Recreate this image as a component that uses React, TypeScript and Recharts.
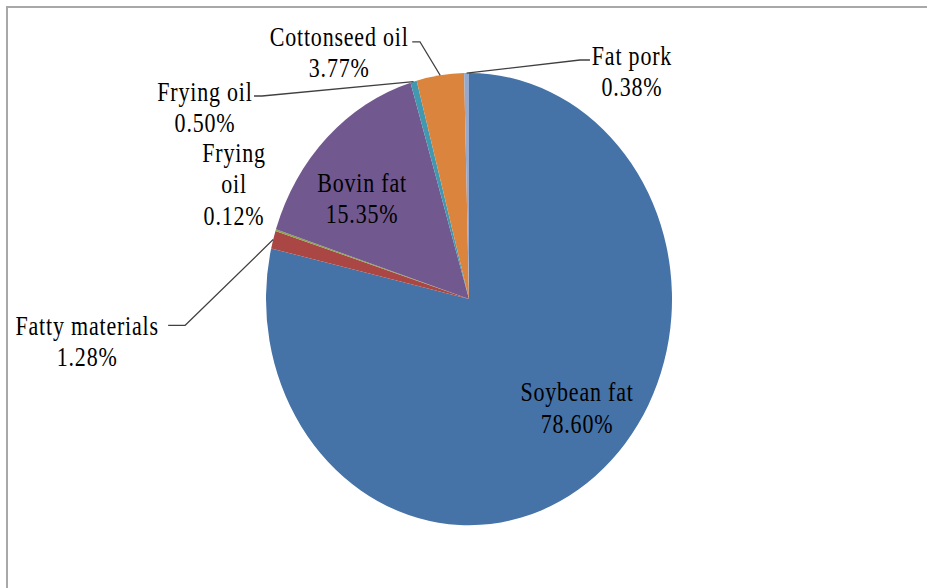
import React from 'react';
import { PieChart, Pie, Cell } from 'recharts';

const categories = ['Soybean fat', 'Fatty materials', 'Frying oil', 'Bovin fat', 'Frying oil', 'Cottonseed oil', 'Fat pork'];
const shares = [78.6, 1.28, 0.12, 15.35, 0.5, 3.77, 0.38];
const colors = ['#4572A7', '#AA4643', '#89A54E', '#71588F', '#4198AF', '#DB843D', '#93A9CF'];

// label layout: offsets (unscaled px) from the slice's outer point at its mid angle
const labelLayout: { dx: number; dy: number; wrap?: boolean; leader?: number[][] }[] = [
  { dx: -18.4, dy: -75.3 },
  { dx: -186, dy: 77.6, leader: [[-88, 77], [-105, 77]] },
  { dx: -41.7, dy: -69.2, wrap: true },
  { dx: 35, dy: 40.9 },
  { dx: -208.6, dy: 9.3, leader: [[-151.6, 12.9], [-159.6, 12.9]] },
  { dx: -101, dy: -34.5, leader: [[-20.2, -30], [-28, -30]] },
  { dx: 165.4, dy: -15.3, leader: [[113.4, -11.7], [123.4, -11.7]] },
];

const W = 927;
const H = 528;
const SCALE = 588 / 528;
const CX = 469;
const CY = 268.6;
const R = 203;
const LINE_H = 28;
const TEXT_STRETCH = 1.08;

const data = categories.map((name, i) => ({ name, value: shares[i] }));

const RAD = Math.PI / 180;

const renderLabel = (props: any) => {
  const { index, midAngle } = props;
  const cx = typeof props.cx === 'number' ? props.cx : CX;
  const cy = typeof props.cy === 'number' ? props.cy : CY;
  const r = typeof props.outerRadius === 'number' ? props.outerRadius : R;
  const ax = cx + r * Math.cos(-midAngle * RAD);
  const ay = cy + r * Math.sin(-midAngle * RAD);
  const lay = labelLayout[index];
  const name = categories[index];
  const pct = shares[index].toFixed(2) + '%';
  const lines = lay.wrap ? [...name.split(' '), pct] : [name, pct];
  const tx = ax + lay.dx;
  const ty = ay + lay.dy;
  let path = '';
  if (lay.leader) {
    path = `M${ax},${ay}` + lay.leader.map((p) => ` L${ax + p[0]},${ay + p[1]}`).join('');
  }
  return (
    <g key={`lbl-${index}`}>
      {path && <path d={path} fill="none" stroke="#404040" strokeWidth={1.2} />}
      {lines.map((t, k) => (
        <text
          key={k}
          x={0}
          y={0}
          transform={`translate(${tx},${ty + k * LINE_H}) scale(1,${TEXT_STRETCH})`}
          textAnchor="middle"
          dominantBaseline="central"
          fill="#000"
          fontSize={22}
          letterSpacing={0.8}
          fontFamily="'Liberation Serif', 'Times New Roman', serif"
        >
          {t}
        </text>
      ))}
    </g>
  );
};

export default function App() {
  return (
    <div style={{ position: 'absolute', left: 0, top: 0, width: 927, height: 588, overflow: 'hidden', background: '#fff' }}>
      <div
        style={{
          position: 'absolute',
          left: 6,
          top: 6,
          width: 921,
          height: 582,
          borderTop: '2px solid #a8a8a8',
          borderLeft: '2px solid #a8a8a8',
          boxSizing: 'border-box',
        }}
      />
      <div
        style={{
          position: 'absolute',
          left: 0,
          top: 0,
          width: W,
          height: H,
          transform: `scaleY(${SCALE})`,
          transformOrigin: '0 0',
        }}
      >
        <PieChart width={W} height={H} margin={{ top: 0, right: 0, bottom: 0, left: 0 }}>
          <Pie
            data={data}
            dataKey="value"
            nameKey="name"
            cx={CX}
            cy={CY}
            outerRadius={R}
            startAngle={90}
            endAngle={-270}
            stroke="none"
            label={renderLabel}
            labelLine={false}
            isAnimationActive={false}
          >
            {data.map((d, i) => (
              <Cell key={i} fill={colors[i]} />
            ))}
          </Pie>
        </PieChart>
      </div>
    </div>
  );
}
